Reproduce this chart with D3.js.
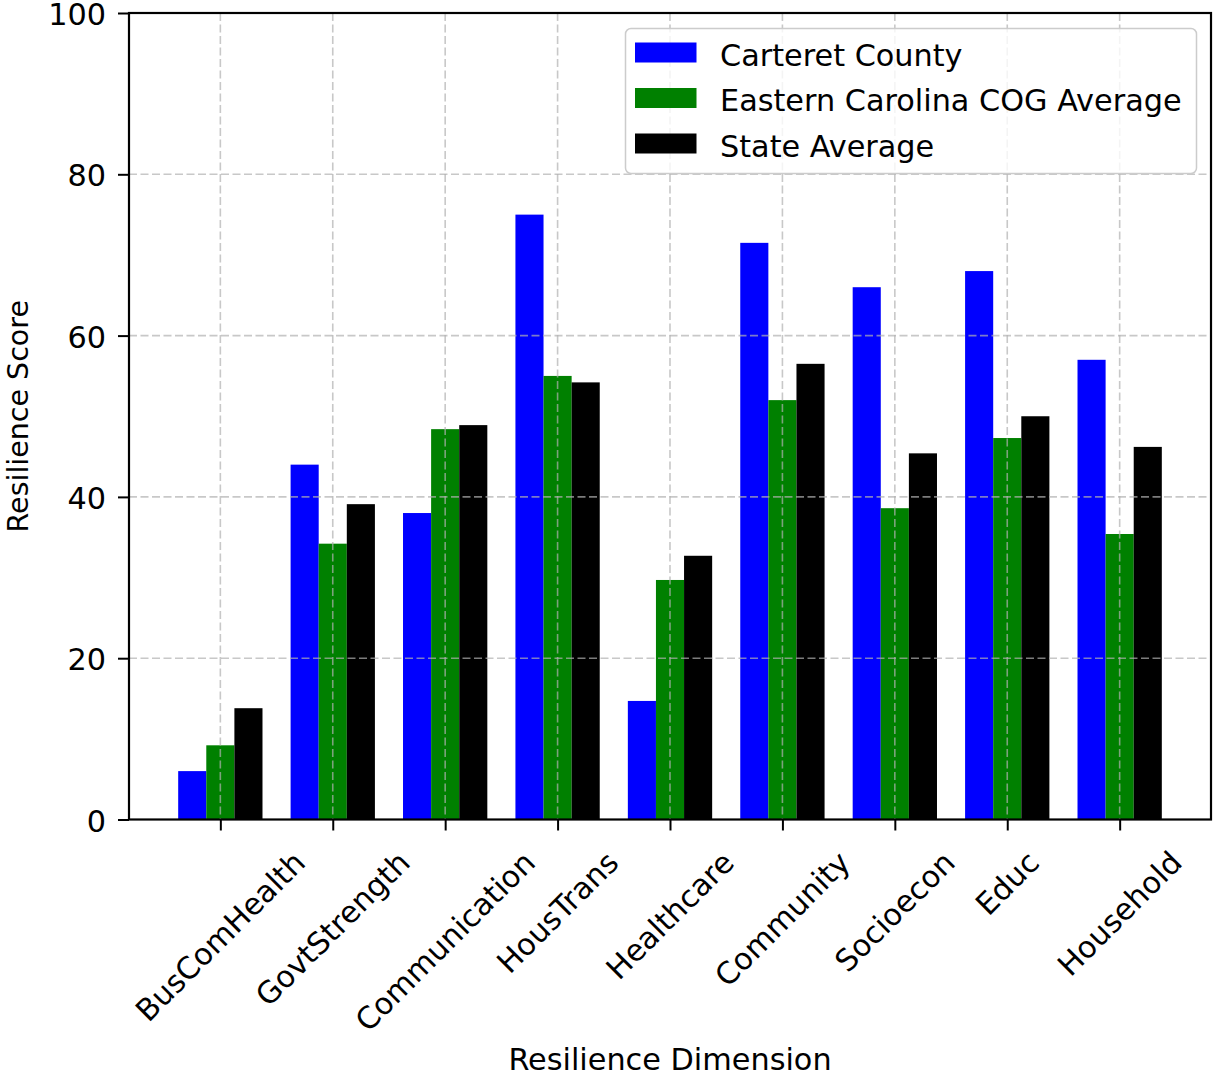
<!DOCTYPE html>
<html lang="en">
<head>
  <meta charset="utf-8">
  <title>Resilience Score by Dimension</title>
  <script src="https://cdn.jsdelivr.net/npm/d3@7"></script>
  <style>
    body { margin: 0; background: #fff; }
    svg { display: block; font-family: "DejaVu Sans", sans-serif; }
  </style>
</head>
<body>
<svg id="chart" width="1213" height="1078"></svg>

<script>
// data
var dimensions = ["BusComHealth", "GovtStrength", "Communication", "HousTrans",
                  "Healthcare", "Community", "Socioecon", "Educ", "Household"];
var carteret = [6.0, 44.0, 38.0, 75.0, 14.7, 71.5, 66.0, 68.0, 57.0];
var cogAvg   = [9.2, 34.2, 48.4, 55.0, 29.7, 52.0, 38.6, 47.3, 35.4];
var stateAvg = [13.8, 39.1, 48.9, 54.2, 32.7, 56.5, 45.4, 50.0, 46.2];
var seriesNames = ["Carteret County", "Eastern Carolina COG Average", "State Average"];
var yTicks = [0, 20, 40, 60, 80, 100];

var series = [
  { name: seriesNames[0], values: carteret, color: "#0000ff", offset: -1 },
  { name: seriesNames[1], values: cogAvg,   color: "#008000", offset: 0 },
  { name: seriesNames[2], values: stateAvg, color: "#000000", offset: 1 }
];

var fontSize = 30.3;
var barW = 0.25;
// plot box (note: "top" would clash with window.top)
var plotL = 129, plotR = 1211, plotT = 13, plotB = 819.5;

var svg = d3.select("#chart");

var x = d3.scaleLinear().domain([-0.8125, 8.8125]).range([plotL, plotR]);
var y = d3.scaleLinear().domain([0, 100]).range([plotB, plotT]);

// bars
series.forEach(function(s) {
  svg.append("g").selectAll("rect")
    .data(s.values)
    .enter().append("rect")
    .attr("x", function(d, i) { return x(i + s.offset * barW - barW / 2); })
    .attr("width", function() { return x(barW) - x(0); })
    .attr("y", function(d) { return y(d); })
    .attr("height", function(d) { return y(0) - y(d); })
    .attr("fill", s.color);
});

// grid (drawn over the bars, like the original)
var grid = svg.append("g")
  .attr("stroke", "#b0b0b0")
  .attr("stroke-opacity", 0.7)
  .attr("stroke-width", 1.6)
  .attr("stroke-dasharray", "8,3.5");

grid.selectAll("line.h")
  .data(yTicks.slice(1, -1))
  .enter().append("line")
  .attr("x1", plotL).attr("x2", plotR)
  .attr("y1", function(d) { return y(d); })
  .attr("y2", function(d) { return y(d); });

grid.selectAll("line.v")
  .data(dimensions)
  .enter().append("line")
  .attr("y1", plotT).attr("y2", plotB)
  .attr("x1", function(d, i) { return x(i); })
  .attr("x2", function(d, i) { return x(i); });

// y axis
var yAxis = svg.append("g")
  .attr("transform", "translate(" + plotL + ",0)")
  .call(d3.axisLeft(y).tickValues(yTicks).tickSize(11).tickPadding(12));
yAxis.select(".domain").remove();
yAxis.selectAll(".tick line").attr("stroke", "#000").attr("stroke-width", 2);
yAxis.selectAll(".tick text")
  .attr("font-family", "DejaVu Sans")
  .attr("font-size", fontSize)
  .attr("dy", "0.38em")
  .attr("fill", "#000");

// x axis: ticks, then rotated labels centred under each tick
var xAxis = svg.append("g")
  .attr("transform", "translate(0," + plotB + ")")
  .call(d3.axisBottom(x).tickValues(d3.range(dimensions.length)).tickSize(11).tickFormat(""));
xAxis.select(".domain").remove();
xAxis.selectAll(".tick line").attr("stroke", "#000").attr("stroke-width", 2);

var labelTop = plotB + 25;
svg.append("g").selectAll("text")
  .data(dimensions)
  .enter().append("text")
  .attr("font-size", fontSize)
  .attr("fill", "#000")
  .attr("text-anchor", "middle")
  .attr("dominant-baseline", "central")
  .text(function(d) { return d; })
  .attr("transform", function(d, i) {
    var L = this.getComputedTextLength();
    var h = fontSize * 1.17;
    var cy = labelTop + (L + h) / (2 * Math.SQRT2);
    return "translate(" + x(i) + "," + cy + ") rotate(-45)";
  });

// frame
svg.append("rect")
  .attr("x", plotL).attr("y", plotT)
  .attr("width", plotR - plotL).attr("height", plotB - plotT)
  .attr("fill", "none")
  .attr("stroke", "#000")
  .attr("stroke-width", 2.2);

// axis titles
svg.append("text")
  .attr("x", (plotL + plotR) / 2)
  .attr("y", 1070)
  .attr("text-anchor", "middle")
  .attr("font-size", fontSize)
  .text("Resilience Dimension");

svg.append("text")
  .attr("transform", "translate(27.5," + (plotT + plotB) / 2 + ") rotate(-90)")
  .attr("text-anchor", "middle")
  .attr("font-size", 28.5)
  .text("Resilience Score");

// legend
var legend = svg.append("g");
legend.append("rect")
  .attr("x", 625.5).attr("y", 28.5)
  .attr("width", 571).attr("height", 145)
  .attr("rx", 5.5)
  .attr("fill", "#fff")
  .attr("fill-opacity", 0.8)
  .attr("stroke", "#cccccc")
  .attr("stroke-width", 1.5);

var rows = legend.selectAll("g.row")
  .data(series)
  .enter().append("g")
  .attr("transform", function(d, i) { return "translate(0," + (52.5 + i * 45.5) + ")"; });

rows.append("rect")
  .attr("x", 635).attr("y", -10)
  .attr("width", 61.5).attr("height", 20)
  .attr("fill", function(d) { return d.color; });

rows.append("text")
  .attr("x", 720)
  .attr("dy", "0.43em")
  .attr("font-size", fontSize)
  .attr("fill", "#000")
  .text(function(d) { return d.name; });
</script>
</body>
</html>
